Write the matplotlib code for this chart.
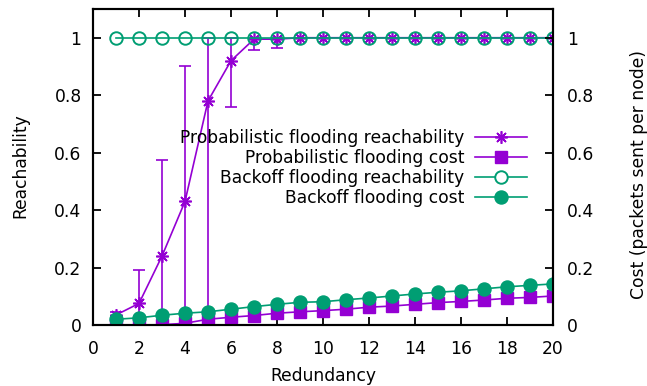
import matplotlib
matplotlib.use("Agg")
import matplotlib.pyplot as plt
from matplotlib.lines import Line2D

redundancy = list(range(1, 21))
prob_reach = [0.035, 0.075, 0.24, 0.43, 0.78, 0.92, 0.995, 0.995] + [1.0] * 12
prob_reach_lo = [0.03, 0.0, 0.0, 0.0, 0.05, 0.76, 0.957, 0.965] + [1.0] * 12
prob_reach_hi = [0.045, 0.19, 0.575, 0.90, 1.0, 1.0, 1.0, 1.0] + [1.0] * 12
prob_cost = [0.0, 0.0, 0.001, 0.006, 0.02, 0.027, 0.033, 0.041, 0.046, 0.05,
             0.055, 0.062, 0.066, 0.072, 0.078, 0.082, 0.087, 0.093, 0.096, 0.101]
backoff_reach = [1.0] * 20
backoff_cost = [0.020, 0.025, 0.034, 0.041, 0.046, 0.055, 0.064, 0.072, 0.079, 0.081,
                0.088, 0.094, 0.101, 0.108, 0.114, 0.119, 0.126, 0.133, 0.138, 0.143]

labels = ["Probabilistic flooding reachability", "Probabilistic flooding cost",
          "Backoff flooding reachability", "Backoff flooding cost"]

purple = "#9400D3"
green = "#009E73"
FS = 12.3

plt.rcParams['font.family'] = ['DejaVu Sans']
plt.rcParams['font.size'] = FS

fig = plt.figure(figsize=(6.47, 3.86), dpi=100)
ax = fig.add_axes([93/647, 1-325/386, 460/647, 316/386])

star = (8, 2, 0)
lw = 1.2
yerr = [[m - lo for m, lo in zip(prob_reach, prob_reach_lo)],
        [hi - m for m, hi in zip(prob_reach, prob_reach_hi)]]
ax.errorbar(redundancy, prob_reach, yerr=yerr, color=purple, lw=lw, marker=star,
            ms=9, mew=1.2, capsize=4, capthick=lw, elinewidth=lw, zorder=3)
ax.plot(redundancy, prob_cost, color=purple, lw=lw, marker='s', ms=8.6, zorder=4)
ax.plot(redundancy, backoff_reach, color=green, lw=lw, marker='o', ms=9,
        mfc='none', mew=1.4, zorder=5)
ax.plot(redundancy, backoff_cost, color=green, lw=lw, marker='o', ms=9.4, zorder=6)

ax.set_xlim(0, 20)
ax.set_ylim(0, 1.1)
ax.set_xticks(range(0, 21, 2))
yt = [0, 0.2, 0.4, 0.6, 0.8, 1.0]
ytl = ["0", "0.2", "0.4", "0.6", "0.8", "1"]
ax.set_yticks(yt)
ax.set_yticklabels(ytl)
ax.tick_params(direction='in', length=6, width=1.3, top=True, right=False,
               labelsize=FS)
ax.tick_params(axis='x', pad=11)
ax.tick_params(axis='y', pad=8.2)
for s in ax.spines.values():
    s.set_linewidth(1.5)
ax.set_xlabel("Redundancy", fontsize=FS)
ax.xaxis.set_label_coords(0.5, (325 - 367) / 316)
ax.set_ylabel("Reachability", fontsize=FS)
ax.yaxis.set_label_coords((29 - 93) / 460, 0.505)

ax2 = ax.twinx()
ax2.set_ylim(0, 1.1)
ax2.set_yticks(yt)
ax2.set_yticklabels(ytl)
ax2.tick_params(direction='in', length=6, width=1.3, labelsize=FS, pad=9.9)
ax2.set_ylabel("Cost (packets sent per node)", fontsize=FS)
ax2.yaxis.set_label_coords((630 - 93) / 460, 0.475)
for s in ax2.spines.values():
    s.set_linewidth(1.5)

handles = [
    Line2D([], [], color=purple, lw=lw, marker=star, ms=9, mew=1.2),
    Line2D([], [], color=purple, lw=lw, marker='s', ms=8.6),
    Line2D([], [], color=green, lw=lw, marker='o', ms=9, mfc='white', mew=1.4),
    Line2D([], [], color=green, lw=lw, marker='o', ms=9.4),
]
leg = ax.legend(handles, labels, loc='upper right',
                bbox_to_anchor=((536 - 93) / 460, 0.648),
                frameon=False, markerfirst=False, fontsize=FS, handlelength=3.05,
                labelspacing=0.12, handletextpad=0.64, borderpad=0)
for t in leg.get_texts():
    t.set_ha('right')
leg._legend_box.align = "right"
leg.set_zorder(10)

fig.savefig("out.png", dpi=100)
